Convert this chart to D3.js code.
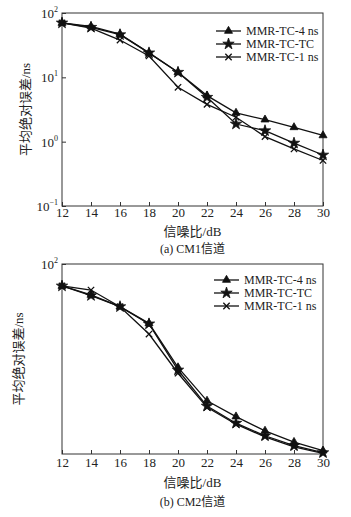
<!DOCTYPE html>
<html>
<head>
<meta charset="utf-8">
<script src="https://cdn.jsdelivr.net/npm/d3@7"></script>
<style>
  body { margin: 0; background: #fff; }
  svg text { font-family: "Liberation Serif", "Noto Sans CJK SC", serif; fill: #222; }
</style>
</head>
<body>
<div id="chart"></div>
<script>
// x values (SNR, dB)
var snr = [12, 14, 16, 18, 20, 22, 24, 26, 28, 30];
var seriesNames = ["MMR-TC-4 ns", "MMR-TC-TC", "MMR-TC-1 ns"];

// (a) CM1 channel
var cm1Tc4 = [70, 62, 47, 24, 12, 5.2, 2.8, 2.2, 1.67, 1.25];
var cm1TcTc = [70, 60, 46, 24, 12, 4.9, 1.88, 1.48, 0.95, 0.62];
var cm1Tc1 = [70, 58, 38, 21.5, 7.0, 3.8, 2.4, 1.2, 0.77, 0.51];

// (b) CM2 channel
var cm2Tc4 = [80.3, 73.4, 65.3, 55.3, 35.6, 25.5, 21.8, 18.9, 16.9, 15.5];
var cm2TcTc = [80.3, 73, 65.3, 55, 34.7, 24.2, 20.4, 18.0, 16.3, 15.2];
var cm2Tc1 = [80.3, 77.1, 65.3, 49.7, 33.6, 23.9, 20.2, 17.8, 16.1, 15.1];

var xTicks = [12, 14, 16, 18, 20, 22, 24, 26, 28, 30];
var cm1YTicks = [0.1, 1, 10, 100];
var cm2YTicks = [100];
var yLabel = "平均绝对误差/ns";
var xLabel = "信噪比/dB";

var svg = d3.select("#chart").append("svg")
  .attr("width", 351)
  .attr("height", 517);

var symbols = [d3.symbolTriangle, d3.symbolStar, d3.symbolTimes];

function drawPanel(cfg) {
  var g = svg.append("g").attr("transform", `translate(${cfg.left}, ${cfg.top})`);
  var width = cfg.width, height = cfg.height;

  var x = d3.scaleLinear().domain([12, 30]).range([0, width]);
  var y = d3.scaleLog().domain(cfg.yDomain).range([height, 0]);

  // plot box
  g.append("rect")
    .attr("width", width).attr("height", height)
    .attr("fill", "none").attr("stroke", "#333").attr("stroke-width", 1);

  // x axis (ticks inside)
  var xAxis = g.append("g")
    .attr("transform", `translate(0, ${height})`)
    .call(d3.axisBottom(x).tickValues(xTicks).tickSizeInner(-4).tickSizeOuter(0).tickPadding(cfg.xPad));
  xAxis.select(".domain").remove();
  xAxis.selectAll("text").attr("font-size", 13).style("fill", "#222");
  xAxis.selectAll("line").attr("stroke", "#333");

  // y axis (ticks inside, superscript labels)
  var yAxis = g.append("g")
    .call(d3.axisLeft(y).tickValues(cfg.yTicks).tickSizeInner(-4).tickSizeOuter(0).tickFormat(""));
  yAxis.select(".domain").remove();
  yAxis.selectAll("line").attr("stroke", "#333");
  cfg.yTicks.forEach(function(t) {
    var txt = g.append("text")
      .attr("x", -4)
      .attr("y", y(t) + 5)
      .attr("text-anchor", "end")
      .attr("font-size", 13);
    txt.append("tspan").text("10");
    txt.append("tspan")
      .attr("font-size", 8)
      .attr("dy", -6)
      .text(Math.round(Math.log10(t)) < 0 ? "\u22121" : Math.round(Math.log10(t)));
  });

  var line = d3.line()
    .x((d, i) => x(snr[i]))
    .y(d => y(d));

  cfg.series.forEach(function(vals, k) {
    g.append("path")
      .datum(vals)
      .attr("d", line)
      .attr("fill", "none")
      .attr("stroke", "#111")
      .attr("stroke-width", 1.3);

    g.selectAll(".m" + k)
      .data(vals)
      .enter()
      .append("path")
      .attr("transform", (d, i) => `translate(${x(snr[i])}, ${y(d)})`)
      .attr("d", d3.symbol().type(symbols[k]).size(k == 1 ? 40 : 28))
      .attr("fill", k == 2 ? "none" : "#111")
      .attr("stroke", "#111")
      .attr("stroke-width", k == 2 ? 1.3 : 0.8);
  });

  // legend
  var lg = g.append("g").attr("transform", `translate(${cfg.legendX}, ${cfg.legendY})`);
  seriesNames.forEach(function(name, k) {
    var row = lg.append("g").attr("transform", `translate(0, ${k * 13})`);
    row.append("line")
      .attr("x1", 0).attr("x2", 25)
      .attr("stroke", "#111").attr("stroke-width", 1.3);
    row.append("path")
      .attr("transform", "translate(12.5, 0)")
      .attr("d", d3.symbol().type(symbols[k]).size(k == 1 ? 40 : 28))
      .attr("fill", k == 2 ? "none" : "#111")
      .attr("stroke", "#111")
      .attr("stroke-width", k == 2 ? 1.3 : 0.8);
    row.append("text")
      .attr("x", 30)
      .attr("y", 4)
      .attr("font-size", 12)
      .text(name);
  });

  // axis labels
  g.append("text")
    .attr("transform", `translate(${cfg.yLabelX}, ${height / 2}) rotate(-90)`)
    .attr("text-anchor", "middle")
    .attr("font-size", 13)
    .text(yLabel);

  g.append("text")
    .attr("x", width / 2)
    .attr("y", height + cfg.xLabelDy)
    .attr("text-anchor", "middle")
    .attr("font-size", 13)
    .text(xLabel);

  g.append("text")
    .attr("x", width / 2)
    .attr("y", height + cfg.captionDy)
    .attr("text-anchor", "middle")
    .attr("font-size", 12)
    .text(cfg.caption);
}

drawPanel({
  left: 62, top: 13, width: 261, height: 193,
  yDomain: [0.1, 100], yTicks: cm1YTicks,
  series: [cm1Tc4, cm1TcTc, cm1Tc1],
  legendX: 154, legendY: 18, yLabelX: -32, xPad: 2,
  xLabelDy: 30, caption: "(a) CM1信道", captionDy: 47
});

drawPanel({
  left: 62, top: 264, width: 261, height: 190,
  yDomain: [15, 100], yTicks: cm2YTicks,
  series: [cm2Tc4, cm2TcTc, cm2Tc1],
  legendX: 152, legendY: 16, yLabelX: -39, xPad: 4,
  xLabelDy: 33, caption: "(b) CM2信道", captionDy: 52
});
</script>
</body>
</html>
